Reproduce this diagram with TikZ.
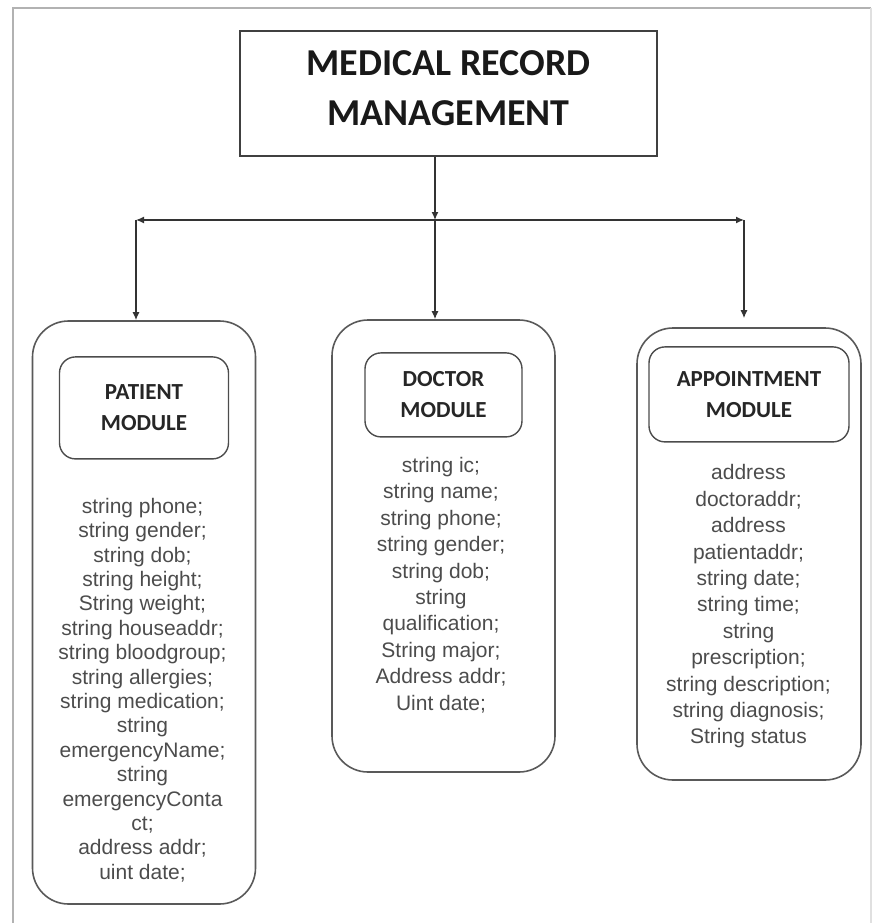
\documentclass[tikz,border=0pt]{standalone}
\usepackage{fontspec}
\setmainfont{Liberation Sans}
\newfontfamily\headfont{Carlito}
\usetikzlibrary{arrows.meta,positioning}

\tikzset{
  mainbox/.style={draw=black!75, line width=1.5pt, minimum width=417pt, minimum height=125pt},
  mainlabel/.style={align=center, font=\headfont\bfseries\fontsize{38}{50}\selectfont, text=black!90},
  module/.style={draw=black!65, line width=1.6pt, rounded corners=36pt, minimum width=223pt},
  modhead/.style={draw=black!70, line width=1.4pt, rounded corners=16pt, align=center,
    font=\headfont\bfseries\fontsize{23}{31}\selectfont, text=black!85},
  fields/.style={align=center, inner sep=0pt, font=\fontsize{21}{26.4}\selectfont, text=black!70},
  link/.style={draw=black!80, line width=1.3pt, -{Latex[length=8pt,width=7pt]}},
}

\begin{document}
\begin{tikzpicture}[x=1pt,y=-1pt]
\useasboundingbox (0,0) rectangle (873,923);
% page frame
\draw[black!30, line width=2.5pt] (13,925) -- (13,8) -- (871,8);
\draw[black!12, line width=1.5pt] (871,8) -- (871,925);

\node[mainbox] (mrm) at (448.5,93.5) {};
\node[mainlabel] (mrmtext) at (448.5,88.5) {MEDICAL RECORD\\MANAGEMENT};

\coordinate (hub) at (435,220);
\coordinate (left) at (136,220);
\coordinate (right) at (744,220);

% modules
\node[module, minimum height=583pt] (patient) at (144,612.5) {};
\node[module, minimum height=452pt] (doctor) at (443.5,546) {};
\node[module, minimum height=452pt, minimum width=224pt] (appt) at (749,554) {};

\node[modhead, minimum width=169pt, minimum height=102pt, below=36pt of patient.north] (phead) {PATIENT\\MODULE};
\node[modhead, minimum width=157pt, minimum height=84pt, below=33pt of doctor.north] (dhead) {DOCTOR\\MODULE};
\node[modhead, minimum width=200pt, minimum height=95pt, below=19pt of appt.north] (ahead) {APPOINTMENT\\MODULE};

\node[fields, font=\fontsize{21}{24.4}\selectfont] (pfields) at (142.5,690) {string phone;\\string gender;\\string dob;\\string height;\\String weight;\\string houseaddr;\\string bloodgroup;\\string allergies;\\string medication;\\string\\emergencyName;\\string\\emergencyConta\\ct;\\address addr;\\uint date;};
\node[fields] (dfields) at (441,585) {string ic;\\string name;\\string phone;\\string gender;\\string dob;\\string\\qualification;\\String major;\\Address addr;\\Uint date;};
\node[fields] (afields) at (748.5,606.5) {address\\doctoraddr;\\address\\patientaddr;\\string date;\\string time;\\string\\prescription;\\string description;\\string diagnosis;\\String status};

% connectors
\draw[link] (hub |- mrm.south) -- (hub);
\draw[link] (hub) -- (left);
\draw[link] (hub) -- (right);
\draw[link] (left) -- (left |- patient.north);
\draw[link] (hub) -- (hub |- doctor.north);
\draw[link, shorten >=9pt] (right) -- (right |- appt.north);
\end{tikzpicture}
\end{document}
